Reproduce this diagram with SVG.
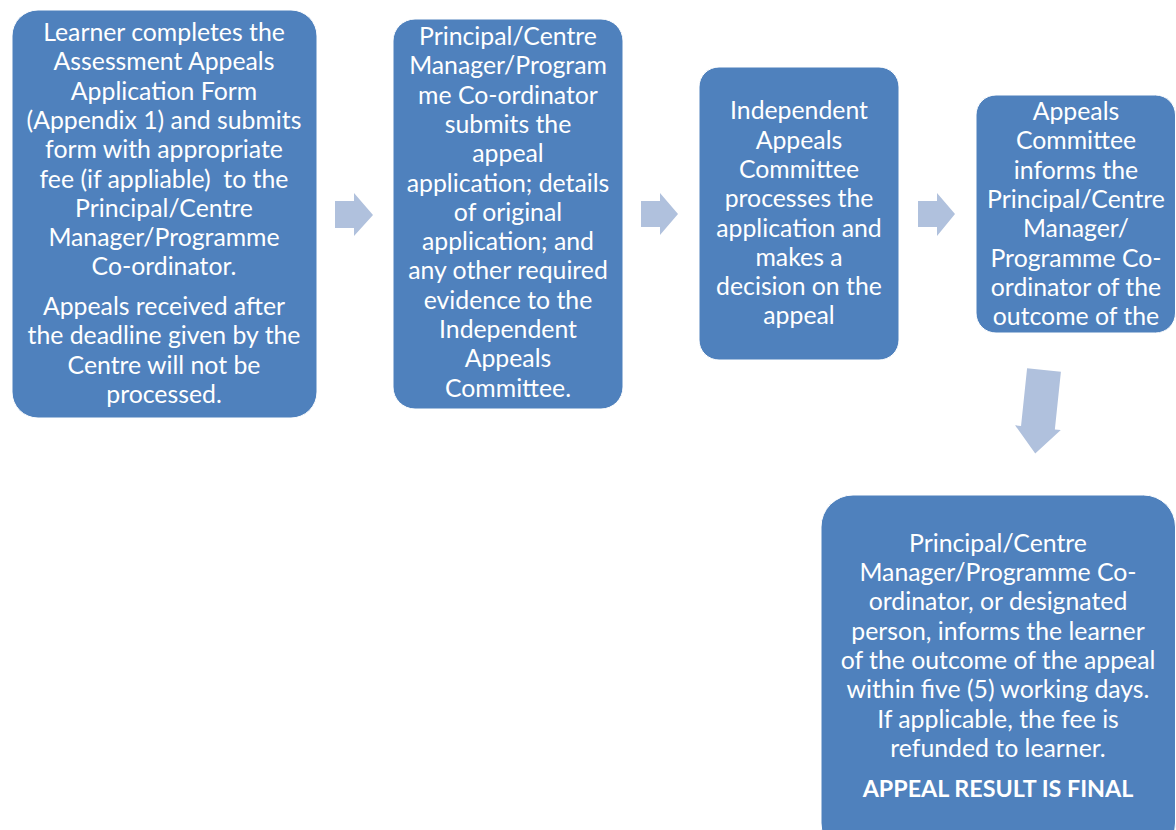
<svg xmlns="http://www.w3.org/2000/svg" width="1176" height="830" viewBox="0 0 1176 830">
<style>
.box{fill:#4F81BD;stroke:#FFFFFF;stroke-width:1}
.t{font-family:Lato,"Liberation Sans",sans-serif;font-size:24.8px;fill:#FFFFFF;text-anchor:middle}
.b{font-weight:bold;font-size:23.3px}
.arr{fill:#B0C1DD}
</style>
<rect width="1176" height="830" fill="#FFFFFF"/>
<g id="connectors">
<polygon class="arr" points="335,201 354,201 354,193 373,215 354,236 354,228 335,228"/>
<polygon class="arr" points="641,201 660,201 660,193 678,214 660,235 660,227 641,227"/>
<polygon class="arr" points="918,201 937,201 937,193 955,214 937,236 937,227 918,227"/>
<polygon class="arr" transform="translate(1044,370) rotate(6)" points="-17,0 17,0 17,58 23,58 0,84 -23,58 -17,58"/>
</g>
<g id="node1">
<rect class="box" x="12" y="10" width="305" height="408" rx="26"/>
<text class="t"><tspan x="164" y="41">Learner completes the</tspan><tspan x="164" y="70.3">Assessment Appeals</tspan><tspan x="164" y="99.6">Application Form</tspan><tspan x="164" y="128.9">(Appendix 1) and submits</tspan><tspan x="164" y="158.2">form with appropriate</tspan><tspan x="164" y="187.5">fee (if appliable)&#160; to the</tspan><tspan x="164" y="216.8">Principal/Centre</tspan><tspan x="164" y="246.1">Manager/Programme</tspan><tspan x="164" y="275.4">Co-ordinator.</tspan><tspan x="164" y="315">Appeals received after</tspan><tspan x="164" y="344.3">the deadline given by the</tspan><tspan x="164" y="373.6">Centre will not be</tspan><tspan x="164" y="402.9">processed.</tspan></text>
</g>
<g id="node2">
<rect class="box" x="393" y="19" width="230" height="390" rx="22"/>
<text class="t"><tspan x="508" y="45">Principal/Centre</tspan><tspan x="508" y="74.3">Manager/Program</tspan><tspan x="508" y="103.6">me Co-ordinator</tspan><tspan x="508" y="132.9">submits the</tspan><tspan x="508" y="162.2">appeal</tspan><tspan x="508" y="191.5">application; details</tspan><tspan x="508" y="220.8">of original</tspan><tspan x="508" y="250.1">application; and</tspan><tspan x="508" y="279.4">any other required</tspan><tspan x="508" y="308.7">evidence to the</tspan><tspan x="508" y="338">Independent</tspan><tspan x="508" y="367.3">Appeals</tspan><tspan x="508" y="396.6">Committee.</tspan></text>
</g>
<g id="node3">
<rect class="box" x="699" y="67" width="200" height="293" rx="20"/>
<text class="t"><tspan x="799" y="119.3">Independent</tspan><tspan x="799" y="148.6">Appeals</tspan><tspan x="799" y="177.9">Committee</tspan><tspan x="799" y="207.2">processes the</tspan><tspan x="799" y="236.5">application and</tspan><tspan x="799" y="265.8">makes a</tspan><tspan x="799" y="295.1">decision on the</tspan><tspan x="799" y="324.4">appeal</tspan></text>
</g>
<g id="node4">
<rect class="box" x="976" y="95" width="199.5" height="238" rx="20"/>
<text class="t"><tspan x="1076" y="120">Appeals</tspan><tspan x="1076" y="149.3">Committee</tspan><tspan x="1076" y="178.6">informs the</tspan><tspan x="1076" y="207.9">Principal/Centre</tspan><tspan x="1076" y="237.2">Manager/</tspan><tspan x="1076" y="266.5">Programme Co-</tspan><tspan x="1076" y="295.8">ordinator of the</tspan><tspan x="1076" y="325.1">outcome of the</tspan></text>
</g>
<g id="node5">
<rect class="box" x="821" y="495" width="354.5" height="360" rx="32"/>
<text class="t"><tspan x="998" y="551.7">Principal/Centre</tspan><tspan x="998" y="581">Manager/Programme Co-</tspan><tspan x="998" y="610.3">ordinator, or designated</tspan><tspan x="998" y="639.6">person, informs the learner</tspan><tspan x="998" y="668.9">of the outcome of the appeal</tspan><tspan x="998" y="698.2">within five (5) working days.</tspan><tspan x="998" y="727.5">If applicable, the fee is</tspan><tspan x="998" y="756.8">refunded to learner.</tspan></text>
<text class="t b" x="998" y="796.7">APPEAL RESULT IS FINAL</text>
</g>
</svg>
